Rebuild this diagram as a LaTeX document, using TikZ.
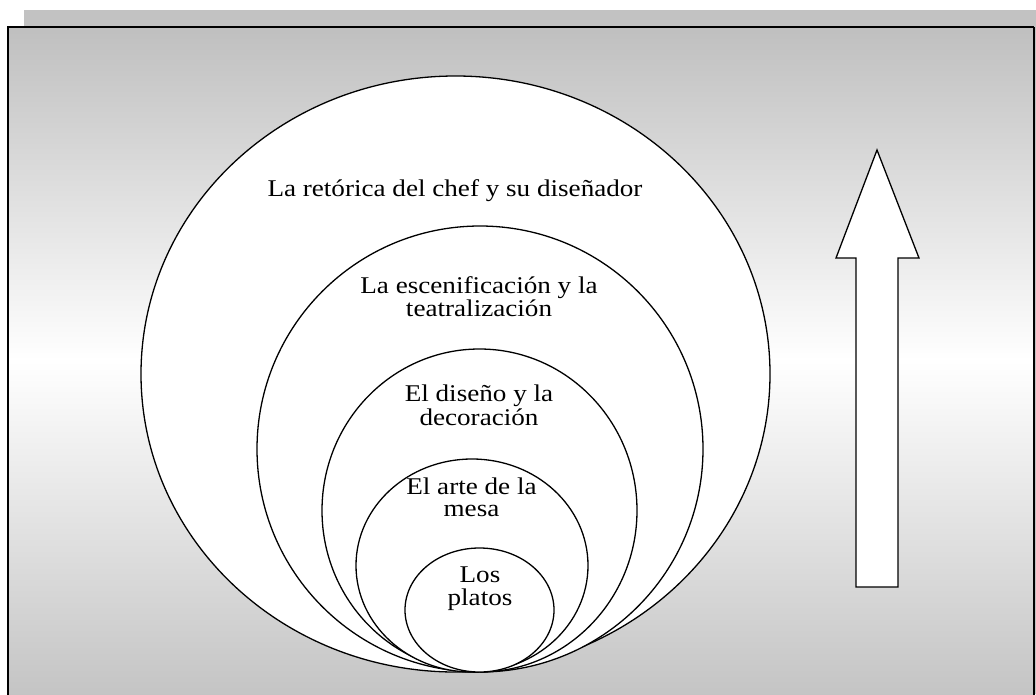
\documentclass[tikz,border=0pt]{standalone}
\usepackage{fontspec}
\newfontfamily\labfont{Liberation Serif}[FakeStretch=1.13]
\usetikzlibrary{shapes.geometric}
\begin{document}
\begin{tikzpicture}[x=1pt,y=-1pt,
  ring/.style={draw=black,fill=white,line width=1.3pt,ellipse,inner sep=0pt},
  lab/.style={anchor=base,align=center,inner sep=0pt,font=\labfont\fontsize{24}{#1}\selectfont},
  lab/.default=21]
\useasboundingbox (0,0) rectangle (1036,694);
% backdrop
\fill[white] (0,0) rectangle (1036,694);
\fill[black!24] (24,10) rectangle (1036,694);
\shade[top color=black!25,bottom color=black!23,middle color=white] (8,27) rectangle (1034,694);
\draw[line width=1.4pt] (8,700) -- (8,27) -- (1034,27);
\draw[line width=2.4pt] (1034,27) -- (1034,700);
% nested rings
\node[ring,minimum width=629pt,minimum height=596pt] (r1) at (455.5,374) {};
\node[ring,minimum width=446pt,minimum height=446pt] (r2) at (480,449) {};
\node[ring,minimum width=315pt,minimum height=323pt] (r3) at (479.5,510.5) {};
\node[ring,minimum width=232pt,minimum height=213pt] (r4) at (472,565.5) {};
\node[ring,minimum width=149pt,minimum height=124pt] (r5) at (479.5,610) {};
% labels
\node[lab] (t1) at (455,196) {La retórica del chef y su diseñador};
\node[lab=21] (t2) at (479,316) {La escenificación y la\\teatralización};
\node[lab=24] (t3) at (479,425) {El diseño y la\\decoración};
\node[lab=22] (t4) at (471.5,516) {El arte de la\\mesa};
\node[lab=23] (t5) at (480,605) {Los\\platos};
% upward arrow
\draw[line width=1.3pt,fill=white,line join=miter]
  (877,150) -- (919,258) -- (898,258) -- (898,587) -- (856,587) -- (856,258) -- (836,258) -- cycle;
\end{tikzpicture}
\end{document}
